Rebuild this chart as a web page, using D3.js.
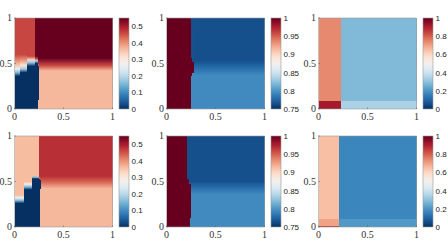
<!DOCTYPE html>
<html>
<head>
<meta charset="utf-8">
<script src="https://cdn.jsdelivr.net/npm/d3@7"></script>
<style>
  body { margin: 0; background: #fff; }
  .tick-lab { font-family: "Liberation Serif", "DejaVu Serif", serif; font-size: 10px; fill: #333; }
  .cb-lab { font-family: "Liberation Sans", Arial, sans-serif; font-size: 8px; fill: #222; }
</style>
</head>
<body>
<div id="chart"></div>
<script>
//////////////////////////////////////////////
// Data //////////////////////////////////////
//////////////////////////////////////////////
// tick values
var axisTicks = [0, 0.5, 1];
var cbTicksA = [0, 0.1, 0.2, 0.3, 0.4, 0.5];
var cbTicksB = [0.75, 0.8, 0.85, 0.9, 0.95, 1];
var cbTicksC = [0, 0.2, 0.4, 0.6, 0.8, 1];
var rangeA = [0, 0.55], rangeB = [0.75, 1], rangeC = [0, 1];

// each band: x extent [x0, x1] and vertical stops [y, value] from bottom to top
var bandsTL = [
  [0, 0.06, [[0,0],[0.36,0],[0.40,0.15],[0.44,0.27],[0.5,0.37],[0.56,0.43],[0.6,0.46],[1,0.46]]],
  [0.06, 0.13, [[0,0],[0.40,0],[0.44,0.18],[0.48,0.31],[0.54,0.4],[0.6,0.46],[1,0.46]]],
  [0.13, 0.21, [[0,0],[0.47,0],[0.51,0.17],[0.54,0.33],[0.58,0.46],[1,0.46]]],
  [0.21, 0.235, [[0,0],[0.5,0],[0.53,0.2],[0.55,0.45],[0.58,0.55],[1,0.55]]],
  [0.235, 0.255, [[0,0.365],[0.1,0.365],[0.1,0],[0.47,0],[0.47,0.43],[0.55,0.55],[1,0.55]]],
  [0.255, 1, [[0,0.365],[0.42,0.365],[0.48,0.46],[0.56,0.55],[1,0.55]]]
];
var bandsTM = [
  [0, 0.25, [[0,1],[1,1]]],
  [0.25, 0.265, [[0,0.795],[0.36,0.795],[0.36,1],[0.56,1],[0.56,0.765],[1,0.765]]],
  [0.265, 0.28, [[0,0.795],[0.4,0.795],[0.4,1],[0.52,1],[0.52,0.766],[1,0.765]]],
  [0.28, 1, [[0,0.795],[0.37,0.795],[0.45,0.78],[0.53,0.765],[1,0.765]]]
];
var bandsTR = [
  [0, 0.225, [[0,0.91],[0.09,0.91],[0.09,0.74],[1,0.74]]],
  [0.225, 1, [[0,0.34],[0.09,0.34],[0.09,0.28],[1,0.28]]]
];
var bandsBL = [
  [0, 0.1, [[0,0],[0.26,0],[0.29,0.15],[0.32,0.27],[0.35,0.36],[1,0.36]]],
  [0.1, 0.18, [[0,0],[0.41,0],[0.44,0.15],[0.47,0.29],[0.5,0.36],[1,0.36]]],
  [0.18, 0.245, [[0,0],[0.53,0],[0.545,0.15],[0.56,0.36],[1,0.36]]],
  [0.245, 0.26, [[0,0],[0.53,0],[0.53,0.43],[0.56,0.48],[1,0.48]]],
  [0.26, 0.275, [[0,0.365],[0.42,0.365],[0.42,0],[0.52,0],[0.52,0.45],[0.56,0.48],[1,0.48]]],
  [0.275, 1, [[0,0.365],[0.42,0.365],[0.5,0.44],[0.56,0.48],[1,0.48]]]
];
var bandsBM = [
  [0, 0.21, [[0,1],[1,1]]],
  [0.21, 0.23, [[0,1],[0.53,1],[0.53,0.765],[1,0.765]]],
  [0.23, 0.24, [[0,1],[0.47,1],[0.47,0.772],[0.5,0.765],[1,0.765]]],
  [0.24, 0.255, [[0,0.795],[0.1,0.795],[0.1,1],[0.47,1],[0.47,0.772],[0.5,0.765],[1,0.765]]],
  [0.255, 1, [[0,0.795],[0.36,0.795],[0.43,0.78],[0.5,0.765],[1,0.765]]]
];
var bandsBR = [
  [0, 0.21, [[0,0.85],[0.012,0.85],[0.012,0.7],[0.09,0.7],[0.09,0.65],[1,0.65]]],
  [0.21, 1, [[0,0.21],[0.09,0.21],[0.09,0.17],[1,0.17]]]
];

var panels = [
  {bands: bandsTL, range: rangeA, cbTicks: cbTicksA, col: 0, row: 0},
  {bands: bandsTM, range: rangeB, cbTicks: cbTicksB, col: 1, row: 0},
  {bands: bandsTR, range: rangeC, cbTicks: cbTicksC, col: 2, row: 0},
  {bands: bandsBL, range: rangeA, cbTicks: cbTicksA, col: 0, row: 1},
  {bands: bandsBM, range: rangeB, cbTicks: cbTicksB, col: 1, row: 1},
  {bands: bandsBR, range: rangeC, cbTicks: cbTicksC, col: 2, row: 1}
];

//////////////////////////////////////////////
// Layout ////////////////////////////////////
//////////////////////////////////////////////
var colX = [14.5, 166.5, 318.5], rowY = [18, 136];
var pw = 98, ph = 91, cbGap = 6.5, cbW = 10;

var svg = d3.select("#chart").append("svg")
  .attr("width", 448).attr("height", 252);
var defs = svg.append("defs");

// reversed RdBu: low = blue, high = red
function cmap(t) { return d3.interpolateRdBu(1 - Math.max(0, Math.min(1, t))); }

var gid = 0;
panels.forEach(function(p) {
  var g = svg.append("g")
    .attr("transform", "translate(" + colX[p.col] + "," + rowY[p.row] + ")");
  var x = d3.scaleLinear().domain([0, 1]).range([0, pw]);
  var y = d3.scaleLinear().domain([0, 1]).range([ph, 0]);
  var c = d3.scaleLinear().domain(p.range).range([0, 1]);

  // field bands, each filled with a vertical gradient (in the group's own coords)
  p.bands.forEach(function(b) {
    var id = "bg" + (gid++);
    var lg = defs.append("linearGradient").attr("id", id)
      .attr("gradientUnits", "userSpaceOnUse")
      .attr("x1", 0).attr("x2", 0)
      .attr("y1", y(0)).attr("y2", y(1));
    lg.selectAll("stop").data(b[2]).enter().append("stop")
      .attr("offset", function(d) { return d[0]; })
      .attr("stop-color", function(d) { return cmap(c(d[1])); });
    g.append("rect")
      .attr("x", x(b[0])).attr("y", 0)
      .attr("width", x(b[1]) - x(b[0]) + 0.6).attr("height", ph)
      .attr("shape-rendering", "crispEdges")
      .attr("fill", "url(#" + id + ")");
  });

  // axes box
  g.append("rect").attr("width", pw).attr("height", ph)
    .attr("fill", "none").attr("stroke", "#9a9a9a").attr("stroke-width", 0.6);

  // ticks (inward)
  axisTicks.forEach(function(t) {
    g.append("line").attr("x1", x(t)).attr("x2", x(t)).attr("y1", ph).attr("y2", ph - 1.5)
      .attr("stroke", "#555").attr("stroke-width", 0.5);
    g.append("line").attr("y1", y(t)).attr("y2", y(t)).attr("x1", 0).attr("x2", 1.5)
      .attr("stroke", "#555").attr("stroke-width", 0.5);
  });

  g.selectAll(".xl").data(axisTicks).enter().append("text")
    .attr("class", "tick-lab")
    .attr("x", function(d) { return x(d); })
    .attr("y", ph + 10.5)
    .attr("text-anchor", "middle")
    .text(function(d) { return d; });
  g.selectAll(".yl").data(axisTicks).enter().append("text")
    .attr("class", "tick-lab")
    .attr("x", -2.5)
    .attr("y", function(d) { return y(d) + 3.3; })
    .attr("text-anchor", "end")
    .text(function(d) { return d; });

  // colorbar
  var cbx = pw + cbGap;
  var cy = d3.scaleLinear().domain(p.range).range([ph, 0]);
  var cid = "cb" + (gid++);
  var clg = defs.append("linearGradient").attr("id", cid)
    .attr("x1", 0).attr("x2", 0).attr("y1", 1).attr("y2", 0);
  clg.selectAll("stop").data(d3.range(0, 1.0001, 0.05)).enter().append("stop")
    .attr("offset", function(d) { return d; })
    .attr("stop-color", function(d) { return cmap(d); });
  g.append("rect").attr("x", cbx).attr("y", 0).attr("width", cbW).attr("height", ph)
    .attr("fill", "url(#" + cid + ")")
    .attr("stroke", "#9a9a9a").attr("stroke-width", 0.6);
  g.selectAll(".cl").data(p.cbTicks).enter().append("text")
    .attr("class", "cb-lab")
    .attr("x", cbx + cbW + 2.5)
    .attr("y", function(d) { return cy(d) + 3; })
    .text(function(d) { return d; });
});
</script>
</body>
</html>
